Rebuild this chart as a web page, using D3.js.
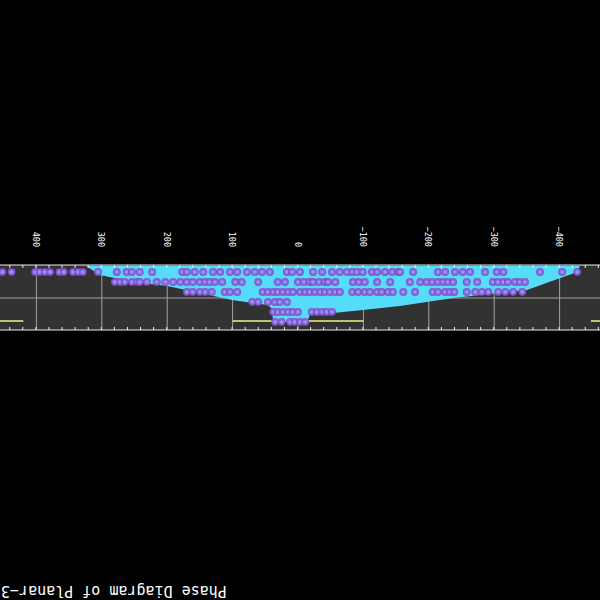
<!DOCTYPE html>
<html lang="en">
<head>
  <meta charset="utf-8">
  <title>Phase Diagram of Planar-3</title>
  <style>
    body { margin: 0; background: #000; }
    svg { display: block; }
    .lbl { font-family: "DejaVu Sans Mono", monospace; fill: #fff; }
  </style>
</head>
<body>
  <svg id="chart" width="600" height="600"></svg>
  <script src="https://cdn.jsdelivr.net/npm/d3@7"></script>
  <script>
    //
    // Data (x = parameter, level = row of the diagram)
    //
    var title = 'Phase Diagram of Planar\u22123'
    var xTicks = [-400, -300, -200, -100, 0, 100, 200, 300, 400]
    var gridLevel = 2.6

    // boundary of the cyan phase region, [x, level]
    var regionX = [324, -431, -427, -350, -237, -156, -99, -54, -18, -14, 31, 38, 41, 47, 101, 150, 200, 252, 303]
    var regionLevel = [-0.6, -0.6, 0.0, 1.8, 2.6, 3.4, 3.8, 4.1, 4.3, 5.0, 5.0, 4.8, 3.6, 3.3, 2.8, 2.1, 1.4, 1.0, 0.3]

    // yellow reference segments at level 4.9
    var yellowLevel = 4.9
    var yellowSegments = [[420, 470], [-100, 100], [-470, -448]]

    // sample points per row
    var row0 = [452, 438, 402, 395, 387, 379, 365, 358, 344, 336, 329, 306, 277, 262, 254, 242, 223, 177, 170, 158,
      145, 130, 119, 104, 93, 78, 66, 55, 43, 17, 9, -3, -23, -37, -52, -64, -75, -83, -90, -99, -113, -121, -133,
      -144, -153, -156, -176, -214, -225, -240, -252, -263, -286, -304, -314, -370, -404, -427]
    var row1 = [280, 272, 265, 254, 246, 242, 231, 216, 203, 191, 180, 170, 161, 150, 142, 135, 127, 116, 96, 86, 61,
      31, 20, 0, -9, -18, -23, -32, -41, -46, -57, -84, -93, -102, -121, -141, -171, -187, -197, -205, -214, -222,
      -229, -237, -258, -274, -298, -306, -314, -321, -332, -339, -347]
    var row2 = [170, 161, 150, 142, 132, 112, 104, 93, 54, 46, 38, 31, 23, 15, 8, -3, -11, -18, -26, -34, -41, -49,
      -57, -64, -83, -92, -102, -110, -121, -128, -138, -145, -161, -179, -206, -214, -225, -232, -239, -258, -271,
      -281, -291, -306, -317, -329, -343]
    var row3 = [70, 61, 46, 35, 28, 17]
    var row4 = [38, 31, 23, 15, 8, 0, -21, -29, -37, -44, -52]
    var row5 = [35, 25, 12, 5, -3, -11]
    var rows = [row0, row1, row2, row3, row4, row5]
    var rowLevels = [0, 1, 2, 3, 4, 5]

    //
    // Layout
    //
    var svg = d3.select('#chart')
    var plotTop = 270, plotBottom = 335

    var x = d3.scaleLinear().domain([-400, 400]).range([40.4, 563.6])
    var y = d3.scaleLinear().domain([-0.7, 5.8]).range([plotBottom, plotTop])

    svg.append('rect').attr('width', 600).attr('height', 600).attr('fill', '#000')

    var defs = svg.append('defs')
    defs.append('clipPath').attr('id', 'plot')
      .append('rect').attr('x', 0).attr('y', plotTop).attr('width', 600).attr('height', plotBottom - plotTop)
    var grad = defs.append('radialGradient').attr('id', 'ball')
      .attr('cx', '50%').attr('cy', '50%').attr('r', '50%')
    grad.append('stop').attr('offset', '0%').attr('stop-color', '#a4acff')
    grad.append('stop').attr('offset', '55%').attr('stop-color', '#7f70e2')
    grad.append('stop').attr('offset', '100%').attr('stop-color', '#8e34bc').attr('stop-opacity', 0.8)

    // the whole figure is shown turned upside down
    var g = svg.append('g').attr('transform', 'rotate(180,300,300)')

    // plot background
    g.append('rect').attr('x', 0).attr('y', plotTop).attr('width', 600).attr('height', plotBottom - plotTop)
      .attr('fill', '#323232')

    var plot = g.append('g').attr('clip-path', 'url(#plot)')

    // grid
    plot.selectAll('.vgrid').data(xTicks).enter().append('line')
      .attr('x1', function(d) { return x(d) }).attr('x2', function(d) { return x(d) })
      .attr('y1', plotTop).attr('y2', plotBottom)
      .attr('stroke', '#a2a2a2').attr('stroke-width', 1)
    plot.append('line')
      .attr('x1', 0).attr('x2', 600).attr('y1', y(gridLevel)).attr('y2', y(gridLevel))
      .attr('stroke', '#a2a2a2').attr('stroke-width', 1)

    // yellow segments
    plot.selectAll('.yel').data(yellowSegments).enter().append('line')
      .attr('x1', function(d) { return x(d[0]) }).attr('x2', function(d) { return x(d[1]) })
      .attr('y1', y(yellowLevel)).attr('y2', y(yellowLevel))
      .attr('stroke', '#f2f28a').attr('stroke-width', 1.5)

    // phase region
    var region = regionX.map(function(d, i) { return [d, regionLevel[i]] })
    plot.append('path')
      .datum(region)
      .attr('d', d3.line().x(function(d) { return x(d[0]) }).y(function(d) { return y(d[1]) }).curve(d3.curveLinearClosed))
      .attr('fill', '#55dcf8')

    // points
    rows.forEach(function(r, i) {
      plot.selectAll('.p' + i).data(r).enter().append('circle')
        .attr('cx', function(d) { return x(d) })
        .attr('cy', y(rowLevels[i]))
        .attr('r', 4)
        .attr('fill', 'url(#ball)')
    })

    // frame lines with minor ticks
    var minor = d3.range(-460, 461, 20)
    g.append('g').attr('transform', 'translate(0,' + plotBottom + ')')
      .call(d3.axisTop(x).tickValues(minor).tickSize(3).tickSizeOuter(0).tickFormat(''))
      .call(function(a) { a.select('.domain').remove(); a.selectAll('line').attr('stroke', '#ececec') })
    g.append('g').attr('transform', 'translate(0,' + plotTop + ')')
      .call(d3.axisBottom(x).tickValues(minor).tickSize(3).tickSizeOuter(0).tickFormat(''))
      .call(function(a) { a.select('.domain').remove(); a.selectAll('line').attr('stroke', '#ececec') })
    g.append('line').attr('x1', 0).attr('x2', 600).attr('y1', plotBottom).attr('y2', plotBottom).attr('stroke', '#ececec')
    g.append('line').attr('x1', 0).attr('x2', 600).attr('y1', plotTop).attr('y2', plotTop).attr('stroke', '#ececec')

    // tick labels
    var axis = g.append('g').attr('transform', 'translate(0,' + plotBottom + ')')
      .call(d3.axisBottom(x).tickValues(xTicks).tickSize(0))
    axis.select('.domain').remove()
    axis.selectAll('text')
      .attr('class', 'lbl')
      .attr('font-size', 8.5)
      .attr('transform', 'rotate(-90)')
      .attr('text-anchor', 'end')
      .attr('x', -18).attr('y', 0).attr('dy', '0.35em')

    // title
    g.append('text').attr('class', 'lbl')
      .attr('x', 599).attr('y', 14)
      .attr('text-anchor', 'end')
      .attr('font-size', 15)
      .text(title)
  </script>
</body>
</html>
